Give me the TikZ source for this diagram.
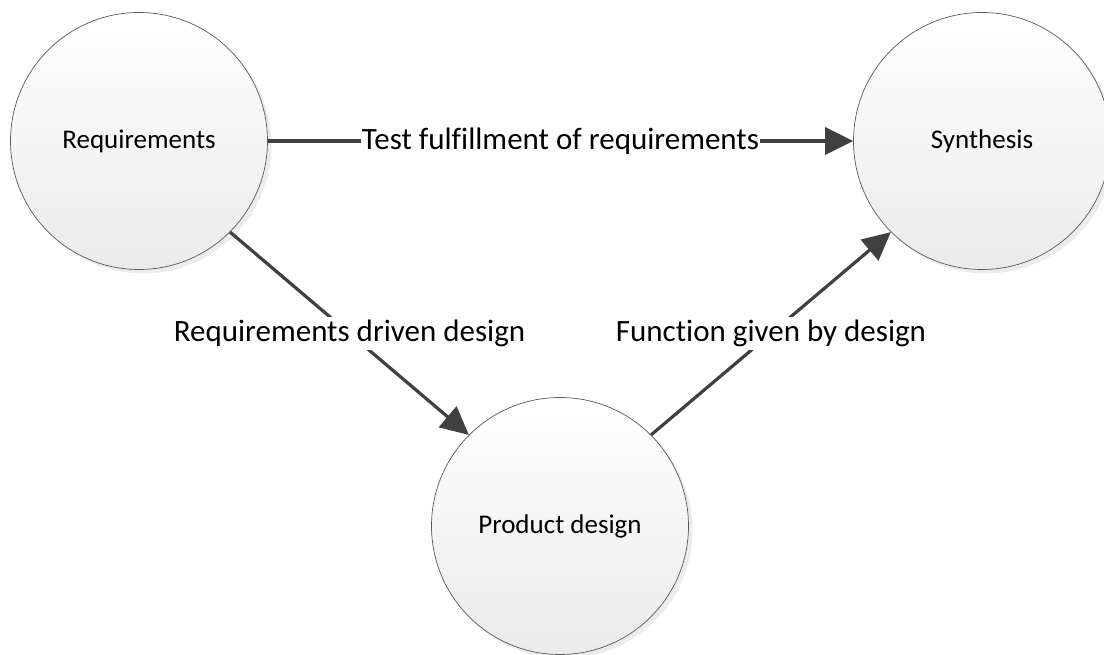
\documentclass[tikz,border=0pt]{standalone}
\usepackage{fontspec}
\setmainfont{Carlito}[Ligatures=NoCommon]
\usetikzlibrary{arrows.meta,shadows}
\definecolor{myedgegray}{RGB}{64,64,64}
\definecolor{myrimgray}{RGB}{90,90,90}

\begin{document}
\begin{tikzpicture}[x=1pt,y=-1pt,
    stage/.style={circle, draw=myrimgray, line width=0.7pt, minimum size=257pt, inner sep=0pt,
        top color=white, bottom color=black!8,
        drop shadow={shadow xshift=4pt, shadow yshift=-4pt, fill=black!15},
        font=\fontsize{27}{32}\selectfont},
    flow/.style={draw=myedgegray, line width=3.2pt, -{Triangle[length=28pt,width=27pt]}},
    flowlabel/.style={fill=white, inner sep=1pt, font=\fontsize{31}{36}\selectfont}]
    % Fix the page to the reference size
    \useasboundingbox (0,0) rectangle (1104,655);

    % Draw the three stages
    \node[stage] (req) at (139,141) {Requirements};
    \node[stage] (syn) at (982,141) {Synthesis};
    \node[stage] (prod) at (560,526) {Product design};

    % Draw the connectors with their labels
    \draw[flow] (req) -- node[flowlabel] {Test fulfillment of requirements} (syn);
    \draw[flow] (req.-45) -- node[flowlabel, inner sep=3pt] {Requirements driven design} (prod.135);
    \draw[flow] (prod.45) -- node[flowlabel, inner sep=3pt] {Function given by design} (syn.-135);
\end{tikzpicture}
\end{document}
